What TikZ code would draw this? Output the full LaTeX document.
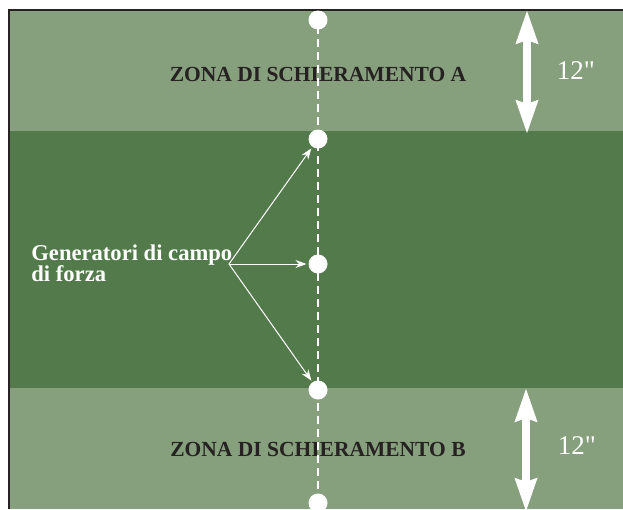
\documentclass[tikz,border=0pt]{standalone}
\usepackage{fontspec}
\setmainfont{Liberation Serif}
\newfontfamily\misurafont[Ligatures=TeXOff]{Liberation Serif}
\usetikzlibrary{arrows.meta}
\definecolor{zonachiara}{RGB}{134,159,124}
\definecolor{campomedio}{RGB}{82,122,74}
\definecolor{cornice}{RGB}{38,34,34}

\begin{document}
\begin{tikzpicture}[thick, x=1pt, y=-1pt,
	gen/.style={circle, fill=white, inner sep=0pt, outer sep=0pt, minimum size=19pt},
	zona/.style={font=\fontsize{21.5}{24}\selectfont\bfseries, text=cornice},
	misura/.style={font=\misurafont\fontsize{27}{30}\selectfont, text=white},
	freccia/.style={white, line width=1pt, -{Stealth[length=11pt,width=8pt]}, shorten >=2pt},
	doppia/.style={white, line width=8pt, {Stealth[length=33pt,width=21pt,inset=3pt]}-{Stealth[length=33pt,width=21pt,inset=3pt]}}]
	\useasboundingbox (0,0) rectangle (623,509);

	% le fasce del campo
		\fill[zonachiara] (9,10) rectangle (623,131);
		\fill[campomedio] (9,131) rectangle (623,388);
		\fill[zonachiara] (9,388) rectangle (623,509);
		\draw[cornice, line width=2pt] (9,509) -- (9,10) -- (623,10);

	% le scritte
		\node[zona] (zonaA) at (318,74) {ZONA DI SCHIERAMENTO A};
		\node[zona] (zonaB) at (318,449) {ZONA DI SCHIERAMENTO B};
		\node[misura] (misA) at (576,71) {12"};
		\node[misura] (misB) at (577,446) {12"};
		\node[anchor=north west, align=left, inner sep=0pt, text=white,
			font=\fontsize{22.6}{20}\selectfont\bfseries] (didascalia) at (31,244) {Generatori di campo\\di forza};

	% la linea centrale e i generatori
		\coordinate (cima) at (318,0);
		\coordinate (fondo) at (318,509);
		\draw[white, line width=2.5pt, dash pattern=on 8pt off 5pt] (cima) -- (fondo);
		\foreach \y/\n in {20/g0, 139/g1, 264/g2, 390/g3, 503/g4}
			\node[gen] (\n) at (318,\y) {};

	% le frecce
		\coordinate (perno) at (229,264);
		\draw[freccia] (perno) -- (g1);
		\draw[freccia] (perno) -- (g2);
		\draw[freccia] (perno) -- (g3);

		\coordinate (altoA) at (527,10);
		\coordinate (bassoA) at (527,134);
		\coordinate (altoB) at (526,388);
		\coordinate (bassoB) at (526,512);
		\draw[doppia] (altoA) -- (bassoA);
		\draw[doppia] (altoB) -- (bassoB);
\end{tikzpicture}
\end{document}
